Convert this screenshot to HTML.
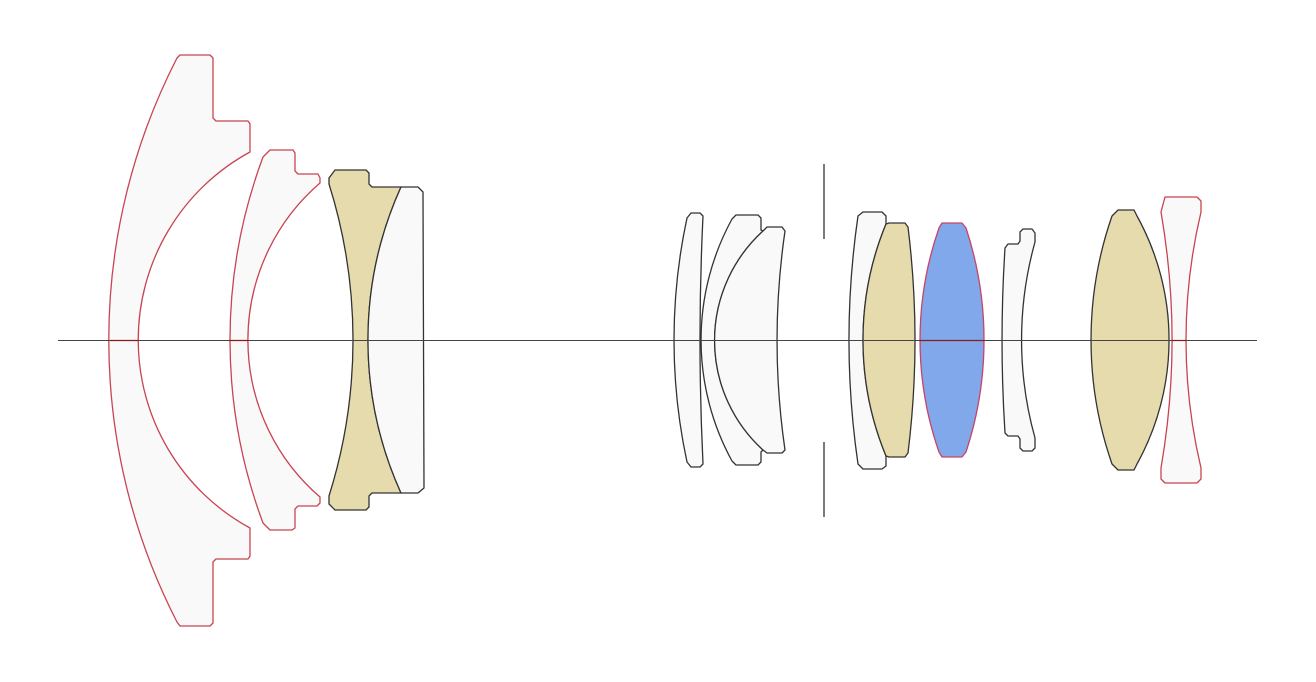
<!DOCTYPE html>
<html><head><meta charset="utf-8"><style>html,body{margin:0;padding:0;background:#fff}svg{display:block}</style></head>
<body>
<svg width="1316" height="682" viewBox="0 0 1316 682" xmlns="http://www.w3.org/2000/svg">
<g stroke-linejoin="round" stroke-width="1.3">
<!-- Lens 1 -->
<path fill="#f9f9f9" stroke="#c84452" d="M180,55 L210,55 L213,58 L213,118 L216,121 L248,121 L250,124 L250,152 A214 214 0 0 0 250,528 L250,556 L248,559 L216,559 L213,562 L213,623 L210,626 L180,626 L177,622 A617 617 0 0 1 177,58 Z"/>
<!-- Lens 2 -->
<path fill="#f9f9f9" stroke="#c84452" d="M270,150 L293,150 L295,153 L295,171 L298,174 L318,174 L320,178 L320,183 A207 207 0 0 0 320,497 L320,503 L317,506 L298,506 L295,509 L295,528 L292,530 L270,530 L263,523 A524 524 0 0 1 263,157 Z"/>
<!-- Lens 3 tan -->
<path fill="#e5dbad" stroke="#333" d="M335,170 L366,170 L369,173 L369,184 L372,187 L401,187 A371 371 0 0 0 401,493 L372,493 L369,496 L369,507 L366,510 L335,510 L329,504 L329,496 A519 519 0 0 0 329,184 L329,178 Z"/>
<!-- Lens 4 -->
<path fill="#f9f9f9" stroke="#333" d="M401,187 L418,187 L423,192 L424,488 L418,493 L401,493 A371 371 0 0 1 401,187 Z"/>
<!-- Lens 5 -->
<path fill="#f9f9f9" stroke="#333" d="M691,213 L700,213 L703,216 A2564 2564 0 0 0 703,464 L700,467 L691,467 L687,462 A579 579 0 0 1 687,218 Z"/>
<!-- Lens 6 -->
<path fill="#f9f9f9" stroke="#333" d="M736,215 L758,215 L761,218 L761,230 L763,231 A148 148 0 0 0 763,450 L761,452 L761,462 L758,465 L736,465 L732,461 A252 252 0 0 1 732,219 Z"/>
<!-- Lens 7 -->
<path fill="#f9f9f9" stroke="#333" d="M763,231 L767,227 L782,227 L785,231 A760 760 0 0 0 785,450 L782,453 L767,453 L763,450 A148 148 0 0 1 763,231 Z"/>
<!-- Stop -->
<line x1="824" y1="164" x2="824" y2="239" stroke="#333"/>
<line x1="824" y1="442" x2="824" y2="517" stroke="#333"/>
<!-- Lens 8 -->
<path fill="#f9f9f9" stroke="#333" d="M863,212 L882,212 L886,216 L886,224 A304 304 0 0 0 886,456 L886,466 L882,469 L863,469 L858,464 A859 859 0 0 1 858,216 Z"/>
<!-- Lens 9 tan -->
<path fill="#e5dbad" stroke="#333" d="M886,224 L889,223 L905,223 L908,227 A916 916 0 0 1 908,453 L905,457 L889,457 L886,456 A304 304 0 0 1 886,224 Z"/>
<!-- Lens 10 blue -->
<path fill="#80a8ea" stroke="#c84466" d="M942,223 L962,223 L966,228 A357 357 0 0 1 966,452 L962,457 L942,457 L939,452 A340 340 0 0 1 939,228 Z"/>
<!-- Lens 11 -->
<path fill="#f9f9f9" stroke="#333" d="M1005,248 L1008,244 L1018,244 L1020,241 L1020,232 L1023,229 L1032,229 L1035,233 L1035,242 A364 364 0 0 0 1035,438 L1035,448 L1032,451 L1023,451 L1020,448 L1020,439 L1018,436 L1008,436 L1005,433 A1443 1443 0 0 1 1005,248 Z"/>
<!-- Lens 12 tan -->
<path fill="#e5dbad" stroke="#333" d="M1118,210 L1134,210 L1137,216 A256 256 0 0 1 1137,464 L1134,470 L1118,470 L1112,464 A377 377 0 0 1 1112,216 Z"/>
<!-- Lens 13 -->
<path fill="#f9f9f9" stroke="#c84452" d="M1165,197 L1197,197 L1201,201 L1201,212 A554 554 0 0 0 1201,468 L1201,479 L1197,483 L1165,483 L1161,479 L1161,468 A750 750 0 0 0 1161,212 Z"/>
</g>
<!-- axis -->
<line x1="58" y1="340.5" x2="1257" y2="340.5" stroke="#444" stroke-width="1"/>
<g stroke="#8b1a1a" stroke-width="1.2">
<line x1="110" y1="340.5" x2="138" y2="340.5"/>
<line x1="229" y1="340.5" x2="248" y2="340.5"/>
<line x1="920" y1="340.5" x2="984" y2="340.5"/>
<line x1="1172" y1="340.5" x2="1186" y2="340.5"/>
</g>
</svg>
</body></html>
